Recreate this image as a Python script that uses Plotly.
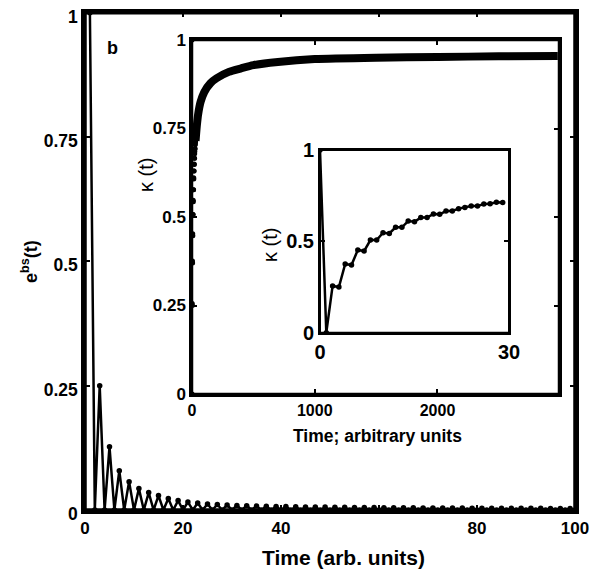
import plotly.graph_objects as go

# ---------------- data ----------------
# main panel: e^bs(t), t = 1..100 (odd t peaks, even t zeros)
main_t = list(range(1, 101))
odd_peaks = [1.0, 0.25, 0.127, 0.079, 0.057, 0.043, 0.035, 0.029, 0.023, 0.019,
             0.016, 0.014, 0.012, 0.011, 0.010, 0.009, 0.0085, 0.008, 0.0075, 0.007,
             0.0068, 0.0065, 0.0062, 0.006, 0.0058, 0.0055, 0.0053, 0.0051, 0.005, 0.0048,
             0.0046, 0.0045, 0.0044, 0.0043, 0.0042, 0.0041, 0.004, 0.0039, 0.0038, 0.0037,
             0.0036, 0.0035, 0.0035, 0.0034, 0.0034, 0.0033, 0.0033, 0.0032, 0.0032, 0.0031]
main_e = []
for p in odd_peaks:
    main_e.append(p)
    main_e.append(0.0)

# inner inset: kappa(t) for t = 0..29
short_t = list(range(0, 30))
short_k = [1.0, 0.0, 0.256, 0.25, 0.376, 0.37, 0.453, 0.447, 0.507, 0.507,
           0.547, 0.543, 0.577, 0.577, 0.611, 0.607, 0.63, 0.63, 0.65, 0.648,
           0.666, 0.666, 0.679, 0.685, 0.693, 0.693, 0.704, 0.706, 0.714, 0.712]

# outer inset: kappa(t) for long times (continuation)
long_t = [29, 40, 50, 70, 100, 150, 200, 300, 400, 500, 700, 1000, 1500, 2000, 2500, 2980]
long_k = [0.715, 0.76, 0.79, 0.825, 0.853, 0.878, 0.892, 0.91, 0.92, 0.929,
          0.938, 0.946, 0.95, 0.952, 0.954, 0.955]

main_xticks = [0, 20, 40, 60, 80, 100]
main_xtext = ["0", "20", "40", " ", "80", "100"]
main_yticks = [0, 0.25, 0.5, 0.75, 1]
main_ytext = ["0", "0.25", "0.5", "0.75", "1"]
in1_xticks = [0, 1000, 2000]
in1_xtext = ["0", "1000", "2000"]
in2_xticks = [0, 30]
in2_xtext = ["0", "30"]
in2_yticks = [0, 0.5, 1]
in2_ytext = ["0", "0.5", "1"]

# ---------------- figure ----------------
FONT = "Liberation Sans"
W, H, OFF = 602, 574, 8   # page body margin offset


def dx(a, b):
    return [(a - OFF) / W, (b - OFF) / W]


def dy(top, bottom):
    return [1 - (bottom - OFF) / H, 1 - (top - OFF) / H]


fig = go.Figure()

fig.add_trace(go.Scatter(x=main_t, y=main_e, mode="lines+markers",
                         line=dict(color="black", width=2.5),
                         marker=dict(color="black", size=5.5),
                         xaxis="x", yaxis="y", showlegend=False))

# outer inset: dense early points as dots, long-time part as a thick band
fig.add_trace(go.Scatter(x=short_t, y=short_k, mode="markers",
                         marker=dict(color="black", size=5),
                         xaxis="x2", yaxis="y2", showlegend=False))
fig.add_trace(go.Scatter(x=long_t, y=long_k, mode="lines",
                         line=dict(color="black", width=8, shape="spline", smoothing=0.6),
                         xaxis="x2", yaxis="y2", showlegend=False))

fig.add_trace(go.Scatter(x=short_t, y=short_k, mode="lines+markers",
                         line=dict(color="black", width=2.5),
                         marker=dict(color="black", size=5.5),
                         xaxis="x3", yaxis="y3", showlegend=False))


def ax(domain, rng, tv, tt, anchor, lw=3, fsize=17, shift=0):
    return dict(domain=domain, range=rng, tickvals=tv, ticktext=tt,
                anchor=anchor, showline=True, linecolor="black", linewidth=lw,
                mirror="allticks", ticks="inside", ticklen=5, tickwidth=1.5,
                tickcolor="black", showgrid=False, zeroline=False, automargin=False,
                ticklabeloverflow="allow", ticklabelshift=shift,
                tickfont=dict(family=FONT, size=fsize, color="black", weight="bold"))


fig.update_layout(
    template="none",
    width=W, height=H,
    margin=dict(l=0, r=0, t=0, b=0, pad=0, autoexpand=False),
    paper_bgcolor="white", plot_bgcolor="white",
    xaxis=ax(dx(85, 575), [0, 100], main_xticks, main_xtext, "y", lw=3.5, fsize=17),
    yaxis=ax(dy(12.7, 510), [0, 1], main_yticks, main_ytext, "x", lw=3.5, fsize=17.5,
             shift=4),
    xaxis2=ax(dx(192, 559), [0, 2990], in1_xticks, in1_xtext, "y2", lw=2.5, fsize=16),
    yaxis2=ax(dy(40, 394), [0, 1], main_yticks, main_ytext, "x2", lw=2.5, fsize=17),
    xaxis3=ax(dx(320, 509), [0, 30], in2_xticks, in2_xtext, "y3", lw=2, fsize=20),
    yaxis3=ax(dy(150, 332.7), [0, 1], in2_yticks, in2_ytext, "x3", lw=2, fsize=20),
)

# frames drawn on the axes' own domains
for xr, yr, lw in [("x domain", "y domain", 3.5), ("x2 domain", "y2 domain", 2.5),
                   ("x3 domain", "y3 domain", 2)]:
    fig.add_shape(type="rect", xref=xr, yref=yr, x0=0, x1=1, y0=0, y1=1,
                  line=dict(color="black", width=lw), layer="above")


def ann(text, x, y, size, bold=True, angle=0, family=FONT):
    fig.add_annotation(text=text, x=(x - OFF) / W, y=1 - (y - OFF) / H,
                       xref="paper", yref="paper",
                       showarrow=False, textangle=angle, xanchor="center", yanchor="middle",
                       font=dict(family=family, size=size, color="black",
                                 weight="bold" if bold else "normal"))


ann("Time (arb. units)", 343, 557, 21)
ann("e<sup>bs</sup>(t)", 30, 262, 18, angle=-90)
ann("b", 112, 48, 18)
ann("Time; arbitrary units", 377, 436, 17.5)
ann("κ (t)", 146, 175, 20, bold=False, angle=-90)
ann("κ (t)", 270, 245, 20, bold=False, angle=-90)

fig.write_html("out.html")
